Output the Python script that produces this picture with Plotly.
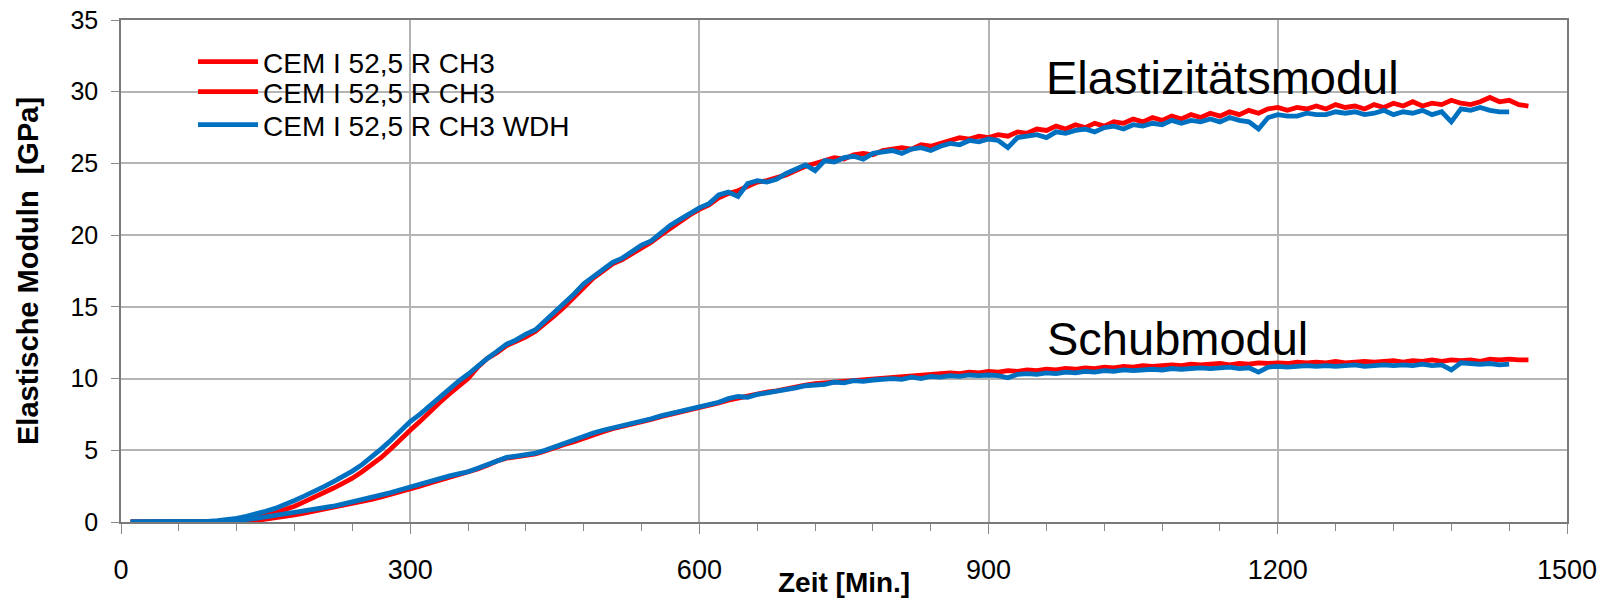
import plotly.graph_objects as go

# ---------------- data ----------------
# sampling every 10 min starting at 10 min
E_red = [
    0, 0, 0, 0, 0, 0, 0, 0, 0,
    0, 0.05, 0.1, 0.2, 0.3, 0.45, 0.65, 0.85, 1.1, 1.4,
    1.7, 2.0, 2.35, 2.7, 3.05, 3.5, 3.95, 4.5, 5.1, 5.8,
    6.4, 7.0, 7.7, 8.3, 8.9, 9.4, 10.0, 10.8, 11.4, 11.8,
    12.3, 12.6, 12.9, 13.3, 13.8, 14.4, 15.0, 15.7, 16.4, 17.0,
    17.5, 18.0, 18.3, 18.7, 19.1, 19.5, 20.0, 20.5, 20.9, 21.4,
    21.8, 22.1, 22.6, 22.9, 23.1, 23.4, 23.7, 23.8, 24.0, 24.2,
    24.5, 24.8, 25.0, 25.2, 25.4, 25.3, 25.6, 25.7, 25.6, 25.9,
    26.0, 26.1, 26.0, 26.3, 26.2, 26.4, 26.6, 26.8, 26.7, 26.9,
    26.8, 27.0, 26.9, 27.2, 27.1, 27.4, 27.3, 27.6, 27.4, 27.7,
    27.5, 27.8, 27.6, 27.9, 27.8, 28.1, 27.9, 28.2, 28.0, 28.3,
    28.1, 28.4, 28.2, 28.5, 28.3, 28.6, 28.4, 28.7, 28.5, 28.8,
    28.9, 28.7, 28.9, 28.8, 29.0, 28.8, 29.1, 28.9, 29.0, 28.8,
    29.1, 28.9, 29.2, 29.0, 29.3, 29.0, 29.2, 29.1, 29.4, 29.2,
    29.1, 29.3, 29.6, 29.3, 29.4, 29.1, 29.0,
]
S_red = [
    0, 0, 0, 0, 0, 0, 0, 0, 0,
    0, 0, 0.02, 0.05, 0.1, 0.18, 0.28, 0.38, 0.5, 0.62,
    0.75, 0.88, 1.0, 1.12, 1.28, 1.42, 1.58, 1.75, 1.92, 2.1,
    2.3, 2.5, 2.7, 2.9, 3.1, 3.25, 3.45, 3.7, 3.95, 4.25,
    4.45, 4.55, 4.65, 4.75, 4.95, 5.2, 5.4, 5.6, 5.85, 6.1,
    6.3, 6.5, 6.65, 6.8, 7.0, 7.15, 7.35, 7.5, 7.65, 7.8,
    7.95, 8.1, 8.3, 8.5, 8.65, 8.8, 8.9, 9.05, 9.15, 9.3,
    9.4, 9.55, 9.65, 9.7, 9.8, 9.85, 9.9, 9.95, 10.0, 10.05,
    10.1, 10.15, 10.2, 10.2, 10.3, 10.3, 10.4, 10.35, 10.45, 10.4,
    10.5, 10.45, 10.55, 10.5, 10.6, 10.55, 10.65, 10.6, 10.7, 10.65,
    10.75, 10.7, 10.8, 10.75, 10.85, 10.8, 10.9, 10.85, 10.9, 10.95,
    10.9, 11.0, 10.95, 11.0, 11.05, 10.95, 11.05, 11.0, 11.1, 11.05,
    11.1, 11.05, 11.15, 11.1, 11.15, 11.1, 11.2, 11.1, 11.15, 11.2,
    11.15, 11.2, 11.25, 11.15, 11.25, 11.2, 11.3, 11.2, 11.3, 11.25,
    11.3, 11.2, 11.35, 11.3, 11.35, 11.3, 11.3,
]
E_blue = [
    0, 0, 0, 0, 0, 0, 0, 0, 0.05,
    0.1, 0.15, 0.25, 0.4, 0.55, 0.75, 0.95, 1.2, 1.5, 1.8,
    2.1, 2.45, 2.8, 3.15, 3.55, 4.0, 4.5, 5.1, 5.7, 6.4,
    7.0, 7.5, 8.1, 8.7, 9.3, 9.8, 10.3, 10.9, 11.4, 11.9,
    12.4, 12.7, 13.1, 13.4, 14.0, 14.6, 15.2, 15.9, 16.6, 17.1,
    17.6, 18.1, 18.4, 18.9, 19.3, 19.6, 20.2, 20.7, 21.1, 21.5,
    21.9, 22.2, 22.8, 23.0, 22.7, 23.6, 23.8, 23.7, 23.9, 24.3,
    24.6, 24.9, 24.5, 25.2, 25.1, 25.4, 25.5, 25.3, 25.7, 25.8,
    25.9, 25.7, 26.0, 26.1, 25.9, 26.2, 26.4, 26.3, 26.6, 26.5,
    26.7, 26.6, 26.1, 26.8, 26.9, 27.0, 26.8, 27.2, 27.1, 27.3,
    27.4, 27.2, 27.5, 27.6, 27.4, 27.7, 27.6, 27.8, 27.7, 28.0,
    27.8, 28.0, 27.9, 28.1, 27.9, 28.2, 28.0, 27.9, 27.4, 28.2,
    28.4, 28.3, 28.3, 28.5, 28.4, 28.4, 28.6, 28.5, 28.6, 28.4,
    28.5, 28.7, 28.4, 28.6, 28.5, 28.7, 28.4, 28.6, 27.9, 28.8,
    28.7, 28.9, 28.7, 28.6, 28.6,
]
S_blue = [
    0, 0, 0, 0, 0, 0, 0, 0, 0,
    0, 0.05, 0.1, 0.15, 0.25, 0.35, 0.45, 0.55, 0.65, 0.75,
    0.9, 1.0, 1.1, 1.25, 1.4, 1.55, 1.7, 1.9, 2.05, 2.25,
    2.45, 2.65, 2.85, 3.0, 3.2, 3.35, 3.5, 3.75, 4.0, 4.3,
    4.5, 4.6, 4.7, 4.8, 5.0, 5.25, 5.45, 5.7, 5.95, 6.2,
    6.4, 6.55, 6.7, 6.85, 7.05, 7.2, 7.4, 7.55, 7.7, 7.85,
    8.0, 8.15, 8.35, 8.6, 8.75, 8.7, 8.9, 9.0, 9.1, 9.25,
    9.35, 9.5, 9.55, 9.6, 9.75, 9.7, 9.85, 9.8, 9.9, 9.95,
    10.0, 9.95, 10.1, 10.0, 10.15, 10.1, 10.2, 10.15, 10.25, 10.2,
    10.25, 10.2, 10.05, 10.3, 10.35, 10.3, 10.4, 10.35, 10.45, 10.4,
    10.5, 10.45, 10.55, 10.5, 10.6, 10.55, 10.6, 10.65, 10.6, 10.7,
    10.65, 10.7, 10.75, 10.7, 10.75, 10.8, 10.7, 10.75, 10.45, 10.8,
    10.85, 10.8, 10.85, 10.9, 10.85, 10.9, 10.85, 10.9, 10.95, 10.85,
    10.9, 10.95, 10.9, 10.95, 10.9, 11.0, 10.9, 10.95, 10.6, 11.1,
    11.05, 11.0, 11.05, 10.95, 11.0,
]
t_red = [10 * (i + 1) for i in range(len(E_red))]
t_blue = [10 * (i + 1) for i in range(len(E_blue))]

legend_names = ["CEM I 52,5 R CH3", "CEM I 52,5 R CH3", "CEM I 52,5 R CH3 WDH"]
x_ticks = [0, 300, 600, 900, 1200, 1500]
y_ticks = [0, 5, 10, 15, 20, 25, 30, 35]

RED = "#FF0000"
BLUE = "#0070C0"
FONT = "Liberation Sans, Arial, sans-serif"
LW = 4.8

# plot-area geometry (px)
L, R, T, B = 121, 48, 20, 78
W, H = 1615, 600
PW, PH = W - L - R, H - T - B


def py(ypx):
    """pixel row -> paper y"""
    return (H - B - ypx) / PH


def px(xpx):
    return (xpx - L) / PW


fig = go.Figure()
fig.add_trace(go.Scatter(x=t_red, y=E_red, mode="lines", name=legend_names[0],
                         legend="legend", line=dict(color=RED, width=LW)))
fig.add_trace(go.Scatter(x=t_red, y=S_red, mode="lines", name=legend_names[1],
                         legend="legend2", line=dict(color=RED, width=LW)))
fig.add_trace(go.Scatter(x=t_blue, y=E_blue, mode="lines", name=legend_names[2],
                         legend="legend3", line=dict(color=BLUE, width=LW)))
fig.add_trace(go.Scatter(x=t_blue, y=S_blue, mode="lines", name=legend_names[2],
                         showlegend=False, line=dict(color=BLUE, width=LW)))

fig.add_annotation(x=1143, y=31.0, text="Elastizitätsmodul", showarrow=False,
                   xanchor="center", yanchor="middle",
                   font=dict(family=FONT, size=47, color="black"))
fig.add_annotation(x=1096, y=12.8, text="Schubmodul", showarrow=False,
                   xanchor="center", yanchor="middle",
                   font=dict(family=FONT, size=47, color="black"))

# axis titles
fig.add_annotation(xref="paper", yref="paper", x=0.5, y=py(582), text="<b>Zeit [Min.]</b>",
                   showarrow=False, xanchor="center", yanchor="middle",
                   font=dict(family=FONT, size=28, color="black"))
fig.add_annotation(xref="paper", yref="paper", x=px(28), y=0.5,
                   text="<b>Elastische Moduln  [GPa]</b>", textangle=-90,
                   showarrow=False, xanchor="center", yanchor="middle",
                   font=dict(family=FONT, size=29, color="black"))

leg_common = dict(xanchor="left", yanchor="middle", bgcolor="rgba(255,255,255,0)",
                  borderwidth=0, font=dict(family=FONT, size=28, color="black"),
                  itemwidth=60)
lx = px(193)
fig.update_layout(
    width=W, height=H,
    margin=dict(l=L, r=R, t=T, b=B),
    paper_bgcolor="white", plot_bgcolor="white",
    font=dict(family=FONT, color="black"),
    showlegend=True,
    legend=dict(x=lx, y=py(62), **leg_common),
    legend2=dict(x=lx, y=py(92), **leg_common),
    legend3=dict(x=lx, y=py(125), **leg_common),
    xaxis=dict(
        range=[0, 1500], tickvals=x_ticks, ticktext=[str(v) for v in x_ticks],
        showgrid=True, gridcolor="#b4b4b4", gridwidth=1.5,
        showline=True, linecolor="#7a7a7a", linewidth=1.6, mirror=True,
        ticks="outside", ticklen=10, tickwidth=1.3, tickcolor="#8a8a8a",
        minor=dict(dtick=60, tick0=0, ticks="outside", ticklen=7, tickcolor="#8a8a8a",
                   tickwidth=1.3, showgrid=False),
        tickfont=dict(family=FONT, size=27, color="black"),
        ticklabelstandoff=13,
        zeroline=False, automargin=False,
    ),
    yaxis=dict(
        range=[0, 35], tickvals=y_ticks,
        showgrid=True, gridcolor="#b4b4b4", gridwidth=1.5,
        showline=True, linecolor="#7a7a7a", linewidth=1.6, mirror=True,
        ticks="outside", ticklen=8, tickwidth=1.3, tickcolor="#8a8a8a",
        tickfont=dict(family=FONT, size=25, color="black"),
        ticklabelstandoff=8,
        zeroline=False, automargin=False,
    ),
)

fig.write_html("out.html")
